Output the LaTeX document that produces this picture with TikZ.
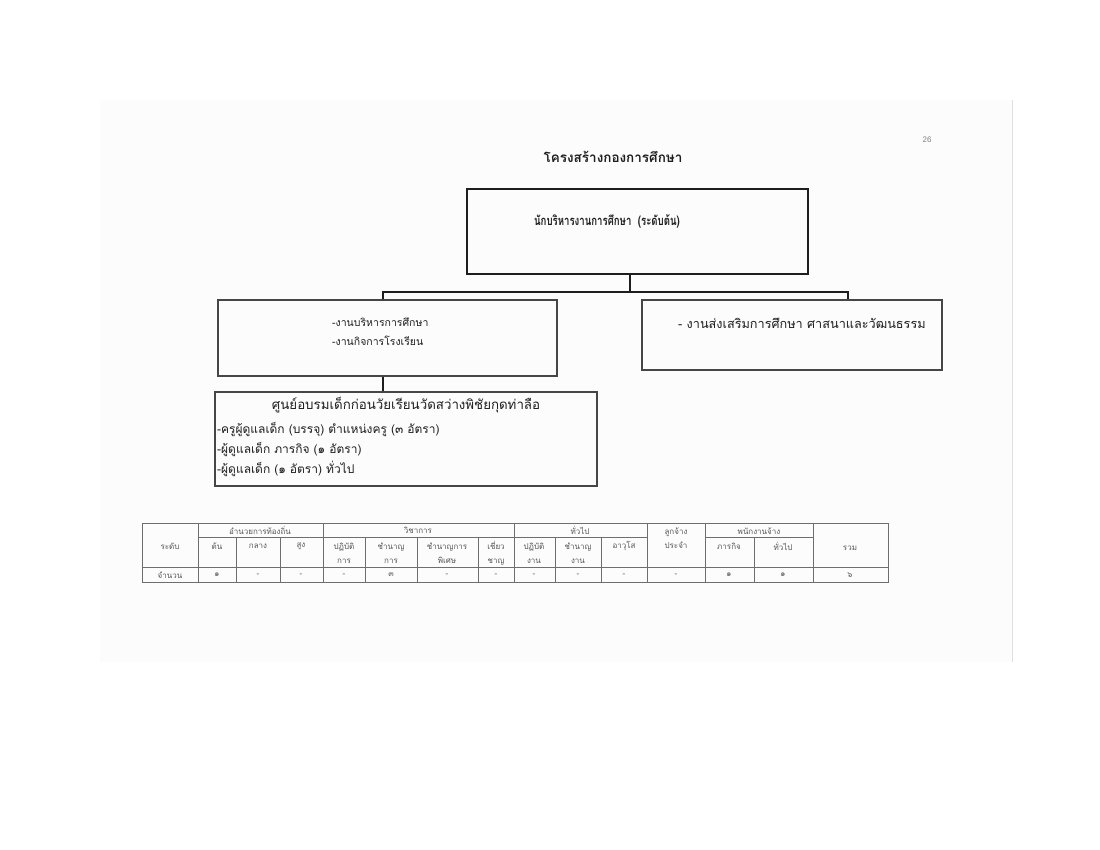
\documentclass[tikz,border=0pt]{standalone}
\usepackage{fontspec}
\newfontfamily\thai[Script=Thai]{Loma}
\newfontfamily\pnumfont{Liberation Sans}
\definecolor{pagecol}{RGB}{252,252,252}
\definecolor{ink}{RGB}{30,30,30}
\definecolor{boxline}{RGB}{70,70,70}
\definecolor{tabline}{RGB}{110,110,110}
\definecolor{tabtext}{RGB}{85,85,85}
\tikzset{
  orgbox/.style={draw=boxline, line width=1.1pt, inner sep=0pt},
  topbox/.style={draw=ink, line width=1.7pt, inner sep=0pt},
  conn/.style={draw=ink, line width=1.7pt},
  boxtext/.style={text=ink, inner sep=0pt, font=\fontsize{12}{14}\thai},
  tabtxt/.style={text=tabtext, inner sep=0pt, align=center, font=\fontsize{8}{14}\thai},
  tabrule/.style={draw=tabline, line width=0.7pt}
}
\begin{document}
\begin{tikzpicture}[x=1pt,y=-1pt]
\useasboundingbox (0,0) rectangle (1100,850);
\fill[white] (0,0) rectangle (1100,850);
\fill[pagecol] (100,100) rectangle (1012,662);
\draw[gray!25, line width=0.8pt] (1012,100) -- (1012,662);

% page number and title
\node[text=gray, inner sep=0pt, font=\fontsize{8}{10}\pnumfont] (pnum) at (927,140) {26};
\node[text=ink, inner sep=0pt, font=\fontsize{13.5}{16}\thai\bfseries] (title) at (613,157) {โครงสร้างกองการศึกษา};

% boxes
\node[topbox, minimum width=341pt, minimum height=85pt] (top) at (637.5,231.5) {};
\node[boxtext, font=\fontsize{13}{15}\thai\bfseries] (toptext) at (607,221) {\scalebox{0.74}[1]{นักบริหารงานการศึกษา~~(ระดับต้น)}};

\node[orgbox, minimum width=339pt, minimum height=76pt] (left) at (387.5,338) {};
\node[boxtext, anchor=west, font=\fontsize{10.5}{13}\thai] (left1) at (332,322) {-งานบริหารการศึกษา};
\node[boxtext, anchor=west, font=\fontsize{10.5}{13}\thai] (left2) at (332,341) {-งานกิจการโรงเรียน};

\node[orgbox, minimum width=300pt, minimum height=70pt] (right) at (792,335) {};
\node[boxtext, anchor=west, font=\fontsize{12.7}{15}\thai] (right1) at (678,323) {- งานส่งเสริมการศึกษา ศาสนาและวัฒนธรรม};

\node[orgbox, minimum width=382pt, minimum height=94pt] (bottom) at (406,439) {};
\node[boxtext, font=\fontsize{13.3}{16}\thai] (bt) at (406,405) {ศูนย์อบรมเด็กก่อนวัยเรียนวัดสว่างพิชัยกุดท่าลือ};
\node[boxtext, anchor=west] (b1) at (217,430) {-ครูผู้ดูแลเด็ก (บรรจุ) ตำแหน่งครู (๓ อัตรา)};
\node[boxtext, anchor=west] (b2) at (217,450) {-ผู้ดูแลเด็ก ภารกิจ (๑ อัตรา)};
\node[boxtext, anchor=west] (b3) at (217,469) {-ผู้ดูแลเด็ก (๑ อัตรา) ทั่วไป};

% connectors
\coordinate (j0) at (630,292);
\coordinate (jL) at (383,292);
\coordinate (jR) at (848,292);
\draw[conn] (top.south -| j0) -- (j0);
\draw[conn] (jL |- left.north) -- (jL) -- (jR) -- (jR |- right.north);
\draw[conn] (left.south -| jL) -- (jL |- bottom.north);

% table
\draw[tabrule] (142,523) rectangle (888,582);
\draw[tabrule] (142,567) -- (888,567);
\draw[tabrule] (198,537) -- (647,537);
\draw[tabrule] (705,537) -- (813,537);
\foreach \x in {198,323,514,647,705,813} \draw[tabrule] (\x,523) -- (\x,582);
\foreach \x in {236,280,365,417,478,555,601,754} \draw[tabrule] (\x,537) -- (\x,582);

\node[tabtxt] (h1) at (260,530) {อำนวยการท้องถิ่น};
\node[tabtxt] (h2) at (418,530) {วิชาการ};
\node[tabtxt] (h3) at (580,530) {ทั่วไป};
\node[tabtxt] (h4) at (676,538) {ลูกจ้าง\\ประจำ};
\node[tabtxt] (h5) at (759,531) {พนักงานจ้าง};
\node[tabtxt] (h0) at (170,546) {ระดับ};
\node[tabtxt] (h6) at (850,548) {รวม};

\foreach \x/\t [count=\i] in {217/ต้น, 258/กลาง, 301/สูง, 624/อาวุโส, 729/ภารกิจ, 783/ทั่วไป}
  \node[tabtxt] (s\i) at (\x,546) {\t};
\foreach \x/\t [count=\i] in {344/ปฏิบัติ\\การ, 391/ชำนาญ\\การ, 447/ชำนาญการ\\พิเศษ, 496/เชี่ยว\\ชาญ, 534/ปฏิบัติ\\งาน, 578/ชำนาญ\\งาน}
  \node[tabtxt] (d\i) at (\x,553) {\t};

\node[tabtxt] (r0) at (170,575) {จำนวน};
\foreach \x/\t [count=\i] in {217/๑, 258/-, 301/-, 344/-, 391/๓, 447/-, 496/-, 534/-, 578/-, 624/-, 676/-, 729/๑, 783/๑, 850/๖}
  \node[tabtxt] (v\i) at (\x,575) {\t};
\end{tikzpicture}
\end{document}
